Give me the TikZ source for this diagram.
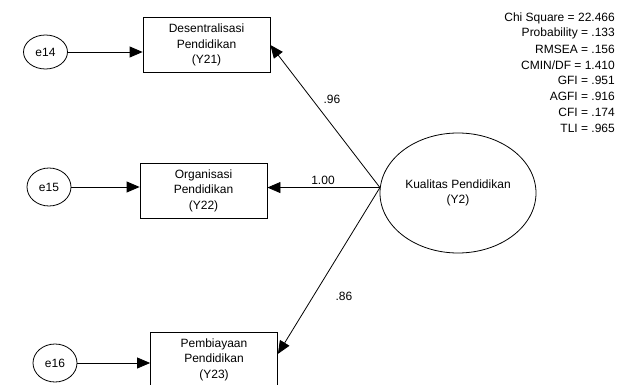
\documentclass[tikz,border=0pt]{standalone}
\usepackage{fontspec}
\setmainfont{Liberation Sans}
\usetikzlibrary{shapes.geometric,arrows.meta}
\begin{document}
\begin{tikzpicture}[x=1pt,y=-1pt,
  font=\fontsize{12}{15.5}\selectfont,
  every node/.style={inner sep=0pt},
  indicator/.style={draw, line width=0.8pt, rectangle, minimum width=127pt,
    minimum height=55pt, align=center},
  errterm/.style={draw, line width=0.8pt, ellipse, minimum width=44pt,
    minimum height=36pt},
  latent/.style={draw, line width=0.8pt, ellipse, minimum width=156pt,
    minimum height=120pt, align=center},
  loading/.style={line width=0.8pt, -{Triangle[length=13pt,width=11pt]}},
  fitstat/.style={anchor=east}]
\useasboundingbox (0,0) rectangle (624,385);

% observed indicators
\node[indicator] (Y21) at (206.5,45) {Desentralisasi\\Pendidikan\\(Y21)};
\node[indicator] (Y22) at (203.5,190.5) {Organisasi\\Pendidikan\\(Y22)};
\node[indicator] (Y23) at (214,359.5) {Pembiayaan\\Pendidikan\\(Y23)};

% error terms
\node[errterm, minimum height=34pt] (e14) at (45.5,52) {e14};
\node[errterm, minimum height=38pt] (e15) at (49,187) {e15};
\node[errterm, minimum height=38pt] (e16) at (55,363) {e16};

% latent construct
\node[latent] (Y2) at (458,193) {Kualitas Pendidikan\\(Y2)};

% error paths
\draw[loading] (e14.east) -- (e14.east -| Y21.west);
\draw[loading] (e15.east) -- (e15.east -| Y22.west);
\draw[loading] (e16.east) -- (e16.east -| Y23.west);

% factor loadings, all leaving one point on the construct's left side
\draw[loading] (Y2.176) -- (Y21.east);
\draw[loading] (Y2.176) -- (Y2.176 -| Y22.east);
\draw[loading] (Y2.176) -- (Y23.5);

\node (l21) at (332,99) {.96};
\node (l22) at (323,180) {1.00};
\node (l23) at (344,296) {.86};

% goodness-of-fit statistics
\node[fitstat] (f1) at (615,18) {Chi Square = 22.466};
\node[fitstat] (f2) at (615,33.7) {Probability = .133};
\node[fitstat] (f3) at (615,49.4) {RMSEA = .156};
\node[fitstat] (f4) at (615,65.1) {CMIN/DF = 1.410};
\node[fitstat] (f5) at (615,80.8) {GFI = .951};
\node[fitstat] (f6) at (615,96.5) {AGFI = .916};
\node[fitstat] (f7) at (615,112.2) {CFI = .174};
\node[fitstat] (f8) at (615,127.9) {TLI = .965};
\end{tikzpicture}
\end{document}
